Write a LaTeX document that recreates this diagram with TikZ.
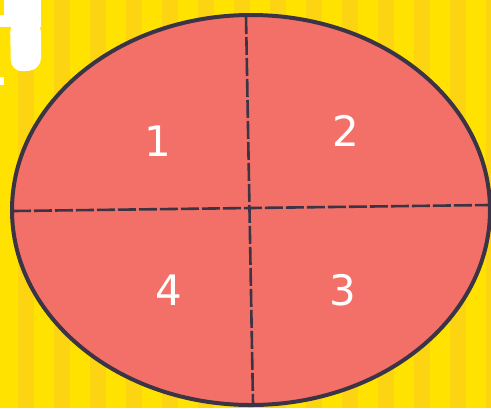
\documentclass[tikz,border=0pt]{standalone}
\usepackage{fontspec}
\setmainfont{DejaVu Sans}
\definecolor{stripeA}{RGB}{255,226,0}
\definecolor{stripeB}{RGB}{252,212,18}
\definecolor{plate}{RGB}{242,112,104}
\definecolor{rim}{RGB}{58,52,68}

\begin{document}
\begin{tikzpicture}[x=0.5pt, y=-0.5pt,
  num/.style={text=white, font=\fontsize{21}{21}\selectfont, inner sep=0pt},
  cut/.style={draw=rim, line width=1.3pt, dash pattern=on 9pt off 1.5pt}
]
\useasboundingbox (0,0) rectangle (491,408);
% striped background
\fill[stripeA] (0,0) rectangle (491,408);
\foreach \i in {0,...,13}
  \fill[stripeB] (\i*36+18,0) rectangle (\i*36+34,408);
% white letter piece, top left
\fill[white] (4,0) rectangle (41,27);
\fill[white] (0,15) rectangle (6,27);
\fill[white, rounded corners=6pt] (10,20) -- (41,20) -- (41,70) -- (11,72) -- cycle;
\fill[white] (0,77) rectangle (4,85);

% the plate
\filldraw[fill=plate, draw=rim, line width=2pt] (251,210) ellipse [x radius=239, y radius=195];

\coordinate (top) at (246,16);
\coordinate (bot) at (253,404);
\coordinate (lft) at (13,211);
\coordinate (rgt) at (489,205);
\draw[cut] (top) -- (bot);
\draw[cut] (lft) -- (rgt);

\node[num] (n1) at (158,141) {1};
\node[num] (n2) at (346,131) {2};
\node[num] (n4) at (169,290) {4};
\node[num] (n3) at (343,290) {3};
\end{tikzpicture}
\end{document}
